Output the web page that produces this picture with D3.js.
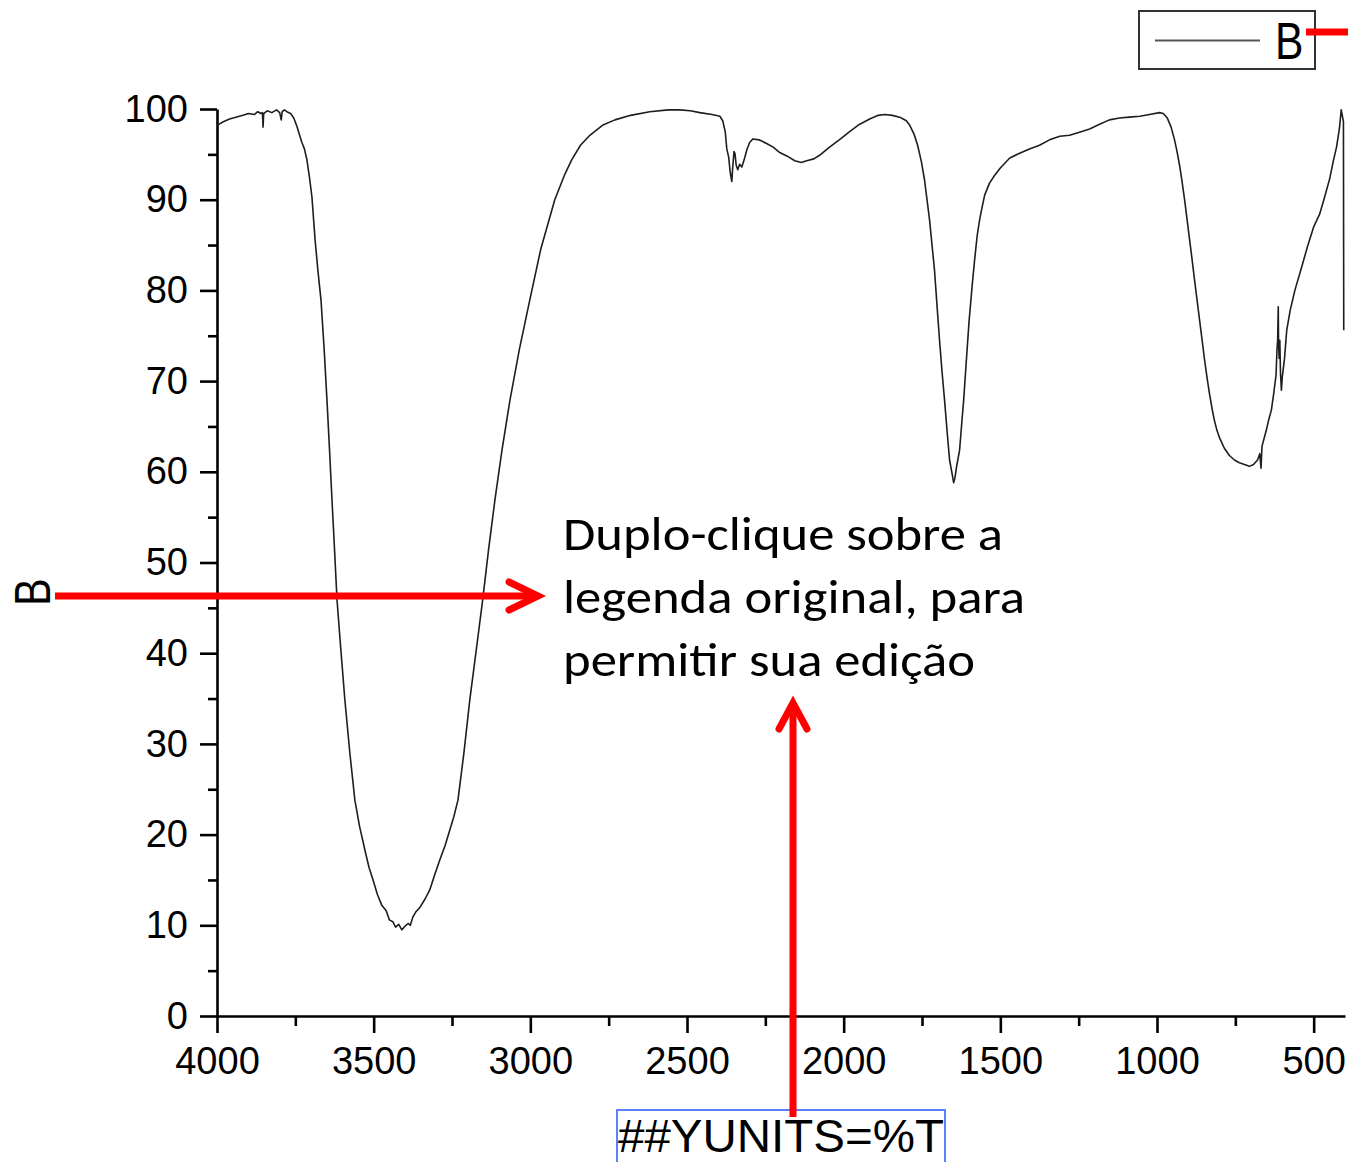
<!DOCTYPE html>
<html>
<head>
<meta charset="utf-8">
<script src="https://cdn.jsdelivr.net/npm/d3@7"></script>
<style>
  body { margin: 0; background: #fff; }
  .axis text { font-family: "Liberation Sans", Arial, sans-serif; font-size: 38px; fill: #000; }
  .axis path, .axis line { stroke: #000; stroke-width: 2.6px; }
</style>
</head>
<body>
<script>
// spectrum (cm-1, %T)
var wavenumber = [4000,3980,3960,3940,3917,3900,3880,3870,3860,3855,3853,3851,3840,3825,3810,3800,3795,3792,3785,3777,
  3765,3755,3745,3737,3729,3721,3713,3705,3697,3687,3678,3668,3658,3649,3641,3633,3625,3617,3605,3592,
  3576,3560,3545,3528,3515,3502,3488,3474,3460,3450,3439,3430,3420,3410,3400,3390,3383,3375,3365,3352,
  3336,3321,3305,3289,3272,3257,3244,3231,3212,3193,3172,3152,3133,3113,3090,3065,3035,3002,2967,2922,
  2890,2868,2840,2810,2770,2730,2680,2619,2560,2523,2490,2459,2420,2395,2386,2378,2373,2367,2362,2357,
  2354,2350,2347,2343,2338,2332,2325,2316,2309,2300,2290,2270,2246,2225,2204,2180,2156,2135,2118,2095,
  2077,2045,2010,1981,1950,1917,1890,1869,1845,1821,1800,1789,1775,1764,1752,1742,1734,1726,1718,1710,
  1702,1694,1686,1678,1670,1662,1655,1649,1645,1640,1630,1624,1617,1610,1600,1590,1582,1574,1566,1558,
  1550,1535,1518,1500,1470,1440,1407,1375,1343,1310,1279,1250,1215,1185,1152,1120,1088,1055,1024,992,
  980,967,955,944,936,928,920,912,904,896,888,880,872,864,856,848,840,832,824,817,
  809,801,785,769,753,737,721,705,692,679,672,668,665,651,643,635,628,620,617,615,
  613,612,610,608,606,603,600,593,586,575,560,538,520,500,481,465,449,437,427,418,
  412,405,404];
var transmittance = [98.2,98.6,98.9,99.1,99.3,99.5,99.4,99.7,99.5,99.6,98.0,99.5,99.8,99.6,99.9,99.6,98.8,99.7,99.9,99.7,
  99.5,99.0,98.1,97.2,96.3,95.6,94.4,92.5,90.3,85.6,82.2,78.9,73.5,67.9,62.5,56.9,51.5,45.9,40.5,34.9,
  29.0,23.8,20.9,18.3,16.4,15.0,13.4,12.2,11.6,10.6,10.4,9.8,10.1,9.5,9.9,10.2,10.0,10.9,11.5,12.0,
  12.9,13.9,15.6,17.2,18.8,20.5,22.0,23.8,29.0,34.9,40.5,45.9,51.5,56.9,62.5,67.9,73.5,78.9,84.5,90.0,
  92.8,94.4,96.0,97.1,98.2,98.8,99.3,99.7,99.9,99.9,99.8,99.6,99.4,99.2,98.7,97.5,95.6,94.7,93.0,92.0,
  93.6,95.3,95.1,93.8,93.3,93.9,93.6,94.6,95.5,96.3,96.7,96.6,96.2,95.8,95.2,94.8,94.3,94.1,94.3,94.5,
  94.9,95.8,96.7,97.5,98.3,98.9,99.3,99.4,99.3,99.1,98.7,98.2,97.2,96.0,94.2,92.2,90.0,87.8,85.0,82.2,
  78.3,74.5,71.0,67.9,64.5,61.3,60.0,58.8,59.3,60.5,62.4,65.0,67.9,71.5,76.5,80.5,83.4,86.0,87.8,89.2,
  90.5,91.8,92.7,93.5,94.6,95.1,95.6,96.0,96.6,97.0,97.1,97.4,97.8,98.3,98.8,99.0,99.1,99.2,99.4,99.6,
  99.5,99.0,98.0,96.6,95.3,93.8,92.0,90.0,87.8,85.6,83.4,81.1,78.9,76.7,74.5,72.3,70.3,68.5,66.9,65.7,
  64.6,63.8,62.6,61.8,61.3,61.0,60.8,60.6,60.8,61.3,62.0,60.4,62.8,64.6,65.8,66.8,68.5,70.7,73.5,74.5,
  78.2,74.0,72.5,74.5,71.0,69.0,70.5,72.5,75.6,77.8,80.0,82.6,84.8,87.0,88.4,90.3,92.3,94.3,95.8,97.8,
  99.9,98.6,75.6];

var xMajor = [4000,3500,3000,2500,2000,1500,1000,500];
var xMinor = [3750,3250,2750,2250,1750,1250,750];
var yMajor = [0,10,20,30,40,50,60,70,80,90,100];
var yMinor = [5,15,25,35,45,55,65,75,85,95];
var seriesName = "B";
var yTitle = "B";
var xTitle = "##YUNITS=%T";
var noteLines = ["Duplo-clique sobre a", "legenda original, para", "permitir sua edição"];

var width = 1348, height = 1162;
var svg = d3.select("body").append("svg")
  .attr("width", width)
  .attr("height", height);

var x = d3.scaleLinear().domain([4000, 400]).range([217, 1345]);
var y = d3.scaleLinear().domain([0, 100]).range([1016, 109]);

var data = wavenumber.map((w, i) => ({ w: w, t: transmittance[i] }));

// minor ticks first
svg.append("g").attr("class", "axis")
  .attr("transform", "translate(0,1016)")
  .call(d3.axisBottom(x).tickValues(xMinor).tickSize(10).tickSizeOuter(0).tickFormat(""))
  .select(".domain").remove();
svg.append("g").attr("class", "axis")
  .attr("transform", "translate(217,0)")
  .call(d3.axisLeft(y).tickValues(yMinor).tickSize(9).tickSizeOuter(0).tickFormat(""))
  .select(".domain").remove();

svg.append("g").attr("class", "axis")
  .attr("transform", "translate(0,1016)")
  .call(d3.axisBottom(x).tickValues(xMajor).tickSize(17).tickSizeOuter(0).tickPadding(14).tickFormat(d3.format("d")));
svg.append("g").attr("class", "axis")
  .attr("transform", "translate(217,0)")
  .call(d3.axisLeft(y).tickValues(yMajor).tickSize(17).tickSizeOuter(0).tickPadding(12).tickFormat(d3.format("d")));

// spectrum
svg.append("path")
  .datum(data)
  .attr("fill", "none")
  .attr("stroke", "#1e1e1e")
  .attr("stroke-width", 1.6)
  .attr("stroke-linejoin", "round")
  .attr("d", d3.line().x(d => x(d.w)).y(d => y(d.t)));

// y title
svg.append("text")
  .attr("transform", "translate(50,592) rotate(-90) scale(0.82,1)")
  .attr("text-anchor", "middle")
  .style("font-family", "Liberation Sans, Arial, sans-serif")
  .style("font-size", "50px")
  .text(yTitle);

// x title with blue selection box
svg.append("rect")
  .attr("x", 617).attr("y", 1110)
  .attr("width", 328).attr("height", 60)
  .attr("fill", "none")
  .attr("stroke", "#5b7fff")
  .attr("stroke-width", 2);
svg.append("text")
  .attr("x", 618).attr("y", 1152)
  .attr("textLength", 326)
  .attr("lengthAdjust", "spacingAndGlyphs")
  .style("font-family", "Liberation Sans, Arial, sans-serif")
  .style("font-size", "47px")
  .text(xTitle);

// legend
var legend = svg.append("g");
legend.append("rect")
  .attr("x", 1139).attr("y", 11)
  .attr("width", 176).attr("height", 58)
  .attr("fill", "#fff")
  .attr("stroke", "#333")
  .attr("stroke-width", 2);
legend.append("line")
  .attr("x1", 1155).attr("x2", 1260)
  .attr("y1", 40.5).attr("y2", 40.5)
  .attr("stroke", "#555")
  .attr("stroke-width", 2);
legend.append("text")
  .attr("transform", "translate(1275,59) scale(0.82,1)")
  .style("font-family", "Liberation Sans, Arial, sans-serif")
  .style("font-size", "52px")
  .text(seriesName);

// note text
svg.append("g").selectAll("text")
  .data(noteLines)
  .enter()
  .append("text")
  .attr("x", 563)
  .attr("y", (d, i) => 550 + i * 63)
  .attr("textLength", (d, i) => [440, 462, 412][i])
  .attr("lengthAdjust", "spacingAndGlyphs")
  .style("font-family", "Carlito, Lato, 'Open Sans', sans-serif")
  .style("font-size", "47px")
  .text(d => d);

// red annotation lines
var red = "#ff0000";
svg.append("line")
  .attr("x1", 1306).attr("x2", 1348).attr("y1", 32).attr("y2", 32)
  .attr("stroke", red).attr("stroke-width", 7);
svg.append("line")
  .attr("x1", 55).attr("x2", 538).attr("y1", 596).attr("y2", 596)
  .attr("stroke", red).attr("stroke-width", 7);
svg.append("polyline")
  .attr("points", "509,582 538,596 509,610")
  .attr("fill", "none").attr("stroke", red).attr("stroke-width", 7)
  .attr("stroke-linecap", "round").attr("stroke-linejoin", "miter");
svg.append("line")
  .attr("x1", 793).attr("x2", 793).attr("y1", 1117).attr("y2", 705)
  .attr("stroke", red).attr("stroke-width", 7);
svg.append("polyline")
  .attr("points", "779,729 793,703 807,729")
  .attr("fill", "none").attr("stroke", red).attr("stroke-width", 7)
  .attr("stroke-linecap", "round").attr("stroke-linejoin", "miter");
</script>
</body>
</html>
